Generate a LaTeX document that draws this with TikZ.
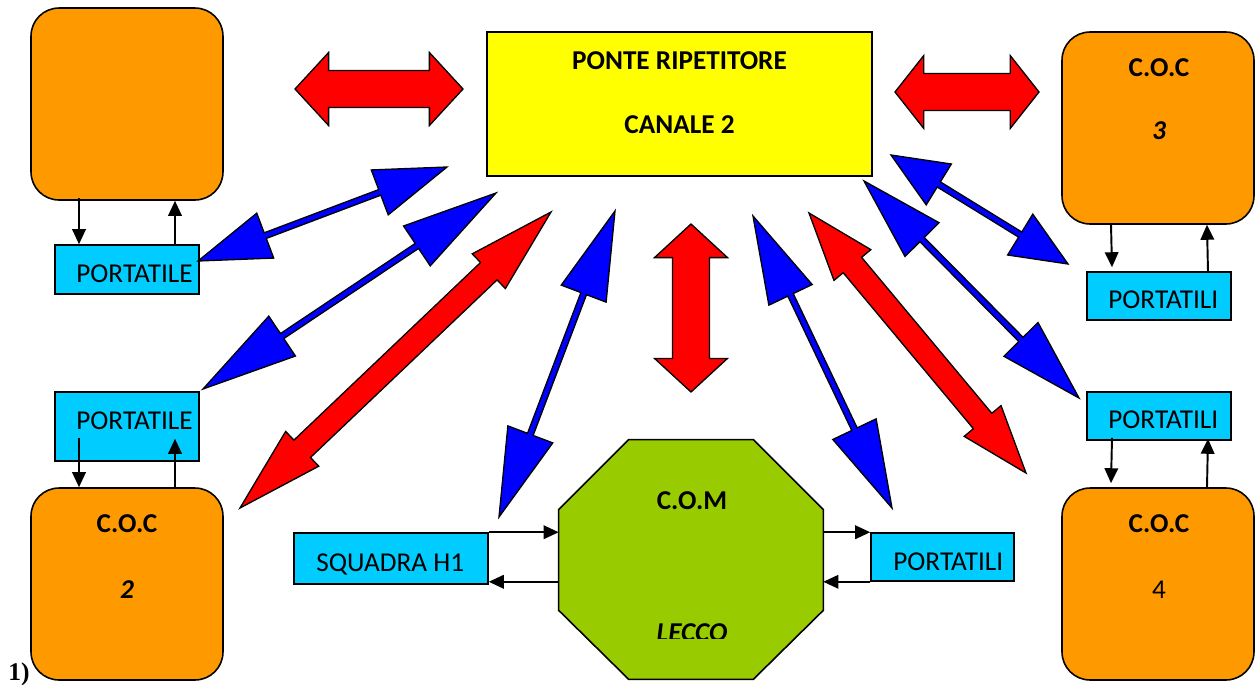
\documentclass[tikz,border=0pt]{standalone}
\usepackage{fontspec}
\setmainfont{Carlito}
\newfontfamily\timesfont{Liberation Serif}
\usetikzlibrary{calc,arrows.meta}

\definecolor{cocorange}{HTML}{FF9900}
\definecolor{ponteyellow}{HTML}{FFFF00}
\definecolor{portcyan}{HTML}{00CCFF}
\definecolor{comgreen}{HTML}{99CC00}
\definecolor{linkred}{HTML}{FF0000}
\definecolor{linkblue}{HTML}{0000FF}

\newcommand{\txtsize}{\fontsize{15.5}{18}\selectfont}

\newcommand{\dblarrow}[6]{%
  \path ($(#1)!#3!(#2)$) coordinate (ha) ($(#2)!#3!(#1)$) coordinate (hb);
  \draw[#6] (#1)
    -- ($(ha)!#4!90:(#2)$) -- ($(ha)!#5!90:(#2)$)
    -- ($(hb)!#5!-90:(#1)$) -- ($(hb)!#4!-90:(#1)$)
    -- (#2)
    -- ($(hb)!#4!90:(#1)$) -- ($(hb)!#5!90:(#1)$)
    -- ($(ha)!#5!-90:(#2)$) -- ($(ha)!#4!-90:(#2)$) -- cycle;
}

\tikzset{
  cocbox/.style={draw, line width=0.9pt, rounded corners=0.56cm, fill=cocorange, minimum width=3.84cm, minimum height=3.84cm},
  portbox/.style={draw, line width=0.9pt, fill=portcyan, minimum width=2.88cm, minimum height=0.96cm},
  txt/.style={font=\txtsize, inner sep=0pt, anchor=base west},
  txtb/.style={font=\txtsize\bfseries, inner sep=0pt, anchor=base},
  sarrow/.style={line width=1.1pt, -{Triangle[length=0.3cm,width=0.27cm]}},
  redlink/.style={draw=black, line width=0.75pt, line join=miter, fill=linkred},
  bluelink/.style={draw=black, line width=0.75pt, line join=miter, fill=linkblue}
}

\begin{document}
\begin{tikzpicture}[x=0.02cm, y=-0.02cm]
			\useasboundingbox (0, 0) rectangle (1255, 684);

			\draw (127, 104) 	node[cocbox] 	(cocA) 		{};
			\draw (1158, 128) 	node[cocbox] 	(cocC) 		{};
			\draw (127, 584) 	node[cocbox] 	(cocB) 		{};
			\draw (1158, 584) 	node[cocbox] 	(cocD) 		{};
			\draw (679.5, 104) 	node[draw, line width=0.9pt, fill=ponteyellow, minimum width=7.7cm, minimum height=2.88cm] 	(ponte) 	{};
			\draw (127, 269.5) 	node[portbox, minimum height=0.98cm] 	(portA) 	{};
			\draw (127, 426.5) 	node[portbox, minimum height=1.38cm] 	(portB) 	{};
			\draw (1159, 296) 	node[portbox] 	(portC) 	{};
			\draw (1159, 416) 	node[portbox] 	(portD) 	{};
			\draw (942.5, 557) 	node[portbox, minimum width=2.86cm] 	(portE) 	{};
			\draw (391, 558.5) 	node[portbox, minimum width=3.88cm, minimum height=1.02cm] 	(squadra) 	{};
			\draw (691, 559.5) 	node[minimum width=5.28cm, minimum height=4.78cm] 	(com) 		{};

			\draw[line width=0.9pt, fill=comgreen] ($(com.north west)+(70,0)$) -- ($(com.north east)+(-70,0)$)
				-- ($(com.north east)+(0,70)$) -- ($(com.south east)+(0,-69)$) -- ($(com.south east)+(-70,0)$)
				-- ($(com.south west)+(70,0)$) -- ($(com.south west)+(0,-69)$) -- ($(com.north west)+(0,70)$) -- cycle;

			\draw (679.5, 69) 	node[txtb] 	(tPonte) 	{PONTE RIPETITORE};
			\draw (679.5, 133) 	node[txtb] 	(tCanale) 	{CANALE 2};
			\draw (1159, 76) 	node[txtb] 	(tCocC) 	{C.O.C};
			\draw (1159, 139) 	node[txtb, font=\txtsize\bfseries\itshape] 	(tNumC) 	{3};
			\draw (127, 532) 	node[txtb] 	(tCocB) 	{C.O.C};
			\draw (127, 598) 	node[txtb, font=\txtsize\bfseries\itshape] 	(tNumB) 	{2};
			\draw (1159, 532) 	node[txtb] 	(tCocD) 	{C.O.C};
			\draw (1159, 598) 	node[txtb, font=\txtsize] 	(tNumD) 	{4};
			\draw (692, 509) 	node[txtb] 	(tCom) 		{C.O.M};
			\begin{scope}
				\clip (559, 600) rectangle (823, 638);
				\draw (692, 641) 	node[txtb, font=\txtsize\bfseries\itshape] 	(tLecco) 	{LECCO};
			\end{scope}
			\draw (76, 282) 	node[txt] 	(tPortA) 	{PORTATILE};
			\draw (76, 429) 	node[txt] 	(tPortB) 	{PORTATILE};
			\draw (1108, 308) 	node[txt] 	(tPortC) 	{PORTATILI};
			\draw (1108, 428) 	node[txt] 	(tPortD) 	{PORTATILI};
			\draw (893, 570) 	node[txt] 	(tPortE) 	{PORTATILI};
			\draw (316, 571) 	node[txt] 	(tSquadra) 	{SQUADRA H1};
			\draw (8, 680) 		node[txt, font=\timesfont\bfseries\fontsize{14.5}{16}\selectfont] 	(tNum) 	{1)};

			\draw[sarrow] ([xshift=-0.96cm, yshift=0.06cm]cocA.south) -- ([xshift=-0.96cm]portA.north);
			\draw[sarrow] ([xshift=0.96cm]portA.north) -- ([xshift=0.96cm]cocA.south);
			\draw[sarrow] ([xshift=-0.96cm, yshift=0.48cm]portB.south) -- ([xshift=-0.96cm]cocB.north);
			\draw[sarrow] ([xshift=0.96cm]cocB.north) -- ([xshift=0.96cm, yshift=0.46cm]portB.south);
			\draw[sarrow] ([xshift=-0.94cm]cocC.south) -- ([xshift=-0.94cm, yshift=0.08cm]portC.north);
			\draw[sarrow] ([xshift=0.98cm]portC.north) -- ([xshift=0.98cm]cocC.south);
			\draw[sarrow] ([xshift=-0.94cm, yshift=0.06cm]portD.south) -- ([xshift=-0.94cm, yshift=0.08cm]cocD.north);
			\draw[sarrow] ([xshift=0.98cm]cocD.north) -- ([xshift=0.98cm, yshift=0.04cm]portD.south);
			\draw[sarrow] (squadra.north east) -- (squadra.north east -| com.west);
			\draw[sarrow] ([yshift=0.06cm]squadra.south east -| com.west) -- ([yshift=0.06cm]squadra.south east);
			\draw[sarrow] (portE.north west -| com.east) -- (portE.north west);
			\draw[sarrow] (portE.south west) -- (portE.south west -| com.east);

			\coordinate (redA1) at (295, 89);	\coordinate (redA2) at (463, 89);
			\coordinate (redB1) at (895, 92);	\coordinate (redB2) at (1039, 92);
			\coordinate (redC1) at (691, 224);	\coordinate (redC2) at (691, 392);
			\coordinate (redD1) at (551, 212);	\coordinate (redD2) at (240, 508);
			\coordinate (redE1) at (809, 213);	\coordinate (redE2) at (1026, 473);
			\coordinate (bluA1) at (447, 167);	\coordinate (bluA2) at (198, 261);
			\coordinate (bluB1) at (496, 193);	\coordinate (bluB2) at (203, 389);
			\coordinate (bluC1) at (615, 211);	\coordinate (bluC2) at (499, 517);
			\coordinate (bluD1) at (753, 216);	\coordinate (bluD2) at (892, 508);
			\coordinate (bluE1) at (864, 181);	\coordinate (bluE2) at (1079, 398);
			\coordinate (bluF1) at (891, 155);	\coordinate (bluF2) at (1068, 264);

			\dblarrow{redA1}{redA2}{0.2}{0.73cm}{0.37cm}{redlink}
			\dblarrow{redB1}{redB2}{0.2}{0.73cm}{0.37cm}{redlink}
			\dblarrow{redC1}{redC2}{0.2}{0.73cm}{0.37cm}{redlink}
			\dblarrow{redD1}{redD2}{0.2}{0.48cm}{0.24cm}{redlink}
			\dblarrow{redE1}{redE2}{0.2}{0.48cm}{0.24cm}{redlink}
			\foreach \b in {A,B,C,D,E,F}
				{\dblarrow{blu\b1}{blu\b2}{0.27}{0.48cm}{0.06cm}{bluelink}}
		\end{tikzpicture}
\end{document}
